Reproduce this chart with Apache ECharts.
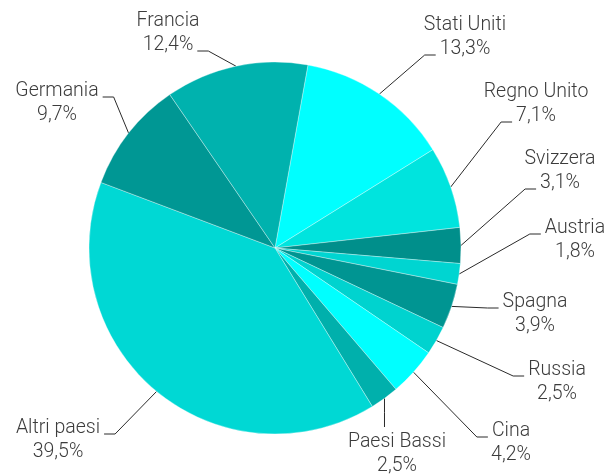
<!DOCTYPE html>
<html>
<head>
<meta charset="utf-8">
<script src="https://cdn.jsdelivr.net/npm/echarts@6/dist/echarts.min.js"></script>
<style>
  html, body { margin: 0; padding: 0; background: #fff; }
  #chart { width: 612px; height: 475px; }
</style>
</head>
<body>
<div id="chart"></div>
<script>
// slices, clockwise from the top
const countries = ['Stati Uniti', 'Regno Unito', 'Svizzera', 'Austria', 'Spagna', 'Russia', 'Cina', 'Paesi Bassi', 'Altri paesi', 'Germania', 'Francia'];
const shares = [13.3, 7.1, 3.1, 1.8, 3.9, 2.5, 4.2, 2.5, 39.5, 9.7, 12.4];
const sliceColors = ['#00ffff', '#00e4de', '#008f8b', '#00d5d1', '#009592', '#00d3cf', '#00ffff', '#00b0ac', '#00d8d4', '#009794', '#00b2ae'];

// where each label sits: [centre x, middle of first row, row the leader meets, side of the text it ends on]
const labelSpots = [
  [465, 25, 1, 'left'],
  [536, 92, 1, 'left'],
  [560, 159, 1, 'left'],
  [575, 228, 0, 'left'],
  [535, 302, 0, 'left'],
  [557, 370, 0, 'left'],
  [511, 431, 0, 'left'],
  [397, 442, 0, 'top'],
  [58, 428, 0, 'right'],
  [57, 91, 0, 'right'],
  [168, 21, 1, 'right']
];

const FONT_SIZE = 19.5;
const LINE_H = 24;
const ctx = document.createElement('canvas').getContext('2d');
ctx.font = '300 ' + FONT_SIZE + 'px Roboto';
const textWidth = s => ctx.measureText(s).width;
const fmt = v => v.toFixed(1).replace('.', ',') + '%';

const chart = echarts.init(document.getElementById('chart'));

chart.setOption({
  animation: false,
  series: [{
    type: 'pie',
    center: [275, 248],
    radius: 186,
    startAngle: 79.8,
    clockwise: true,
    avoidLabelOverlap: false,
    data: countries.map((name, i) => ({
      name,
      value: shares[i],
      itemStyle: { color: sliceColors[i] }
    })),
    itemStyle: { borderColor: 'rgba(255,255,255,0.55)', borderWidth: 0.6 },
    label: {
      show: true,
      position: 'outside',
      formatter: p => p.name + '\n' + fmt(p.value),
      color: '#3c3c3c',
      fontFamily: 'Roboto',
      fontWeight: 300,
      fontSize: FONT_SIZE,
      lineHeight: LINE_H
    },
    labelLine: {
      show: true,
      length: 10,
      length2: 10,
      lineStyle: { color: '#2a2a2a', width: 1 }
    },
    emphasis: { disabled: true },
    labelLayout: function (params) {
      const i = params.dataIndex;
      const [cx, y0, row, side] = labelSpots[i];
      const p0 = params.labelLinePoints[0].slice();
      let elbow, end;
      if (side === 'top') {
        end = [p0[0], y0 - 15];
        elbow = [p0[0], (p0[1] + end[1]) / 2];
      } else {
        const rows = [countries[i], fmt(shares[i])];
        const w = textWidth(rows[row]);
        const ly = y0 + row * LINE_H + 6;
        const dir = side === 'left' ? -1 : 1;
        const ex = cx + dir * (w / 2 + 4);
        end = [ex, ly];
        elbow = [ex + dir * 11, ly];
      }
      return {
        x: cx,
        y: y0 - LINE_H / 2,
        align: 'center',
        verticalAlign: 'top',
        labelLinePoints: [p0, elbow, end]
      };
    }
  }]
});
</script>
</body>
</html>
